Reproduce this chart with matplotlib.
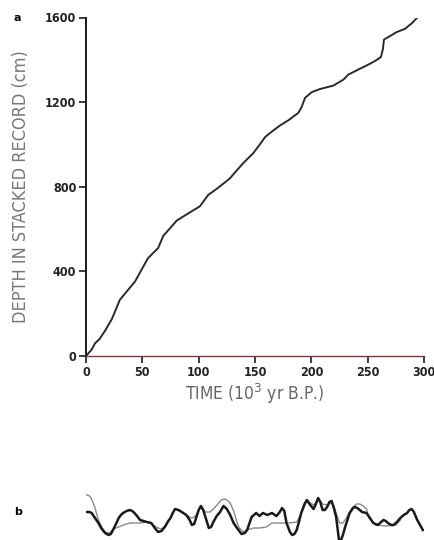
import numpy as np
import matplotlib.pyplot as plt

# age model: depth in the stacked record against time
age_kyr = [0, 5, 8, 12, 17, 23, 30, 36, 43.5, 49, 55, 60, 64, 68.6, 74.6, 80.5,
           88, 95, 101, 108.6, 116, 122, 127.8, 131, 139.6, 148.5, 155, 159,
           163.3, 172, 179.6, 188.4, 191.4, 194.4, 200.3, 207.7, 219.5, 228.4,
           232.8, 241.7, 249, 255, 259.4, 261.8, 263.5, 264.5, 269.8, 275.7,
           283, 289, 295]
depth_cm = [0, 30, 60, 80, 120, 175, 265, 304, 352, 405, 462, 489, 510, 568,
            604, 640, 665, 688, 707, 762, 790, 815, 840, 860, 912, 959, 1005,
            1035, 1054, 1089, 1114, 1149, 1177, 1220, 1247, 1262, 1278, 1306,
            1330, 1354, 1373, 1390, 1404, 1414, 1450, 1496, 1512, 1531, 1546,
            1572, 1605]

# panel b: two filtered records (arbitrary units)
b_age = [0, 3, 5, 8, 11, 14, 17, 20, 22, 24, 27, 29, 31, 33, 36, 39, 41, 43,
         46, 48, 51, 54, 58, 61, 64, 67, 70, 73, 75, 77, 79, 82, 85, 89, 92, 94,
         96, 98, 100, 102, 104, 106, 109, 111, 113, 116, 119, 122, 125, 128,
         131, 134, 138, 141, 143, 147, 151, 154, 157, 161, 165, 169, 172, 174,
         176, 178, 181, 183, 185, 187, 189, 191, 194, 196, 199, 202, 204, 206,
         208, 210, 212, 214, 216, 218, 220, 222, 225, 228, 230, 232, 234, 237,
         239, 242, 245, 249, 252, 255, 259, 262, 264, 266, 268, 271, 273, 276,
         279, 282, 285, 287, 289, 291, 294, 297, 299]
b_black = [28, 28, 27, 22, 17, 11, 7, 5, 6, 10, 17, 22, 25, 27, 29, 30, 29, 27,
           23, 20, 19, 18, 17, 12, 8, 9, 13, 19, 22, 27, 31, 30, 28, 25, 20, 15,
           16, 23, 30, 34, 30, 23, 12, 13, 18, 24, 28, 34, 31, 25, 17, 12, 6, 7,
           10, 23, 27, 24, 27, 25, 27, 24, 28, 32, 29, 17, 8, 5, 6, 10, 18, 27,
           36, 40, 35, 31, 36, 42, 38, 30, 30, 33, 38, 39, 32, 23, -4, 5, 13, 20,
           27, 32, 33, 31, 28, 27, 22, 17, 15, 18, 20, 19, 17, 15, 15, 18, 22,
           25, 27, 30, 31, 28, 20, 14, 10]

g_age = [0, 1.5, 3, 4.5, 6, 7.5, 9, 11, 14, 17, 20, 22, 24, 29, 33, 39, 43, 48,
         54, 58, 61, 64, 67, 70, 73, 75, 77, 79, 82, 85, 89, 92, 94, 96, 98,
         100, 102, 104, 106, 110, 114, 117, 120, 123, 125, 128, 131, 134, 136,
         140, 143, 149, 154, 160, 165, 174, 180, 187, 189, 191, 194, 196, 199,
         202, 204, 206, 210, 214, 218, 220, 222, 225, 228, 230, 234, 237, 240,
         243, 246, 249, 251, 257, 266, 275, 279]
b_gray = [45, 45, 44, 42, 38, 34, 28, 20, 13, 8, 7, 8, 11, 13, 15, 17, 17, 17,
          18, 16, 14, 12, 11, 14, 19, 22, 27, 31, 30, 28, 25, 23, 22, 23, 25, 30,
          34, 31, 28, 28, 32, 36, 40, 41, 40, 37, 29, 18, 12, 8, 10, 12, 12, 13,
          17, 17, 17, 18, 22, 27, 34, 40, 37, 35, 37, 41, 36, 35, 37, 34, 27,
          17, 17, 20, 28, 33, 36, 36, 34, 31, 22, 15, 14, 15, 20]

xticks = [0, 50, 100, 150, 200, 250, 300]
yticks = [0, 400, 800, 1200, 1600]

fig = plt.figure(figsize=(4.35, 5.4), dpi=100)

ax = fig.add_axes([86/435, 184/540, 338/435, 338.5/540])
ax.plot(age_kyr, depth_cm, color='#2a2a2a', lw=1.4)
ax.set_xlim(0, 300)
ax.set_ylim(0, 1600)
ax.set_xticks(xticks)
ax.set_yticks(yticks)
for s in ['top', 'right']:
    ax.spines[s].set_visible(False)
ax.spines['left'].set_linewidth(1.4)
ax.spines['left'].set_color('#1a1a1a')
ax.spines['bottom'].set_linewidth(1.0)
ax.spines['bottom'].set_color('#7a3a42')
ax.tick_params(direction='out', length=5, width=1.2, color='#1a1a1a',
               labelsize=9, pad=2)
for lab in ax.get_xticklabels() + ax.get_yticklabels():
    lab.set_fontfamily('DejaVu Sans')
    lab.set_fontstretch('condensed')
    lab.set_fontweight('bold')
    lab.set_color('#222222')
ax.set_xlabel('TIME (10$^3$ yr B.P.)', fontsize=12.5, color='#666666',
              family='DejaVu Sans', fontstretch='condensed', labelpad=2)
ax.set_ylabel('DEPTH IN STACKED RECORD (cm)', fontsize=13, color='#777777',
              family='DejaVu Sans', fontstretch='condensed', labelpad=11)

fig.text(14/435, 1 - 18/540, 'a', fontsize=8, fontweight='bold',
         ha='left', va='center')
fig.text(14/435, 1 - 512/540, 'b', fontsize=8, fontweight='bold',
         ha='left', va='center')

# lower panel runs off the bottom edge
axb = fig.add_axes([86/435, -20/540, 338/435, 70/540])
axb.plot(g_age, b_gray, color='#8a8a8a', lw=1.0)
axb.plot(b_age, b_black, color='#1a1a1a', lw=1.8)
axb.set_xlim(0, 300)
axb.set_ylim(-20, 50)
axb.axis('off')

fig.savefig('out.png', dpi=100)
